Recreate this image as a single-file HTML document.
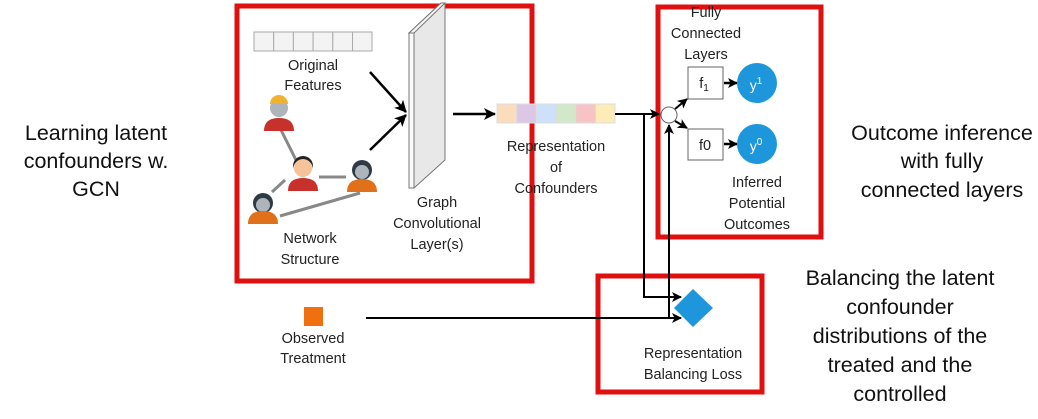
<!DOCTYPE html>
<html><head><meta charset="utf-8"><style>
html,body{margin:0;padding:0;background:#fff;}
svg{display:block;}
.s{font-family:"Liberation Sans",sans-serif;font-size:14.5px;fill:#222;text-anchor:middle;}
.b{font-family:"Liberation Sans",sans-serif;font-size:21.5px;fill:#111;text-anchor:middle;}
</style></head><body>
<svg width="1038" height="419" viewBox="0 0 1038 419" xmlns="http://www.w3.org/2000/svg">
<defs>
<marker id="a" markerWidth="10" markerHeight="10" refX="9" refY="5" orient="auto" markerUnits="userSpaceOnUse"><path d="M0,0 L10,5 L0,10 L2.5,5 z" fill="#000"/></marker>
<marker id="a2" markerWidth="12" markerHeight="12" refX="11" refY="6" orient="auto" markerUnits="userSpaceOnUse"><path d="M0,0 L12,6 L0,12 L3,6 z" fill="#000"/></marker>
</defs>
<rect x="237" y="6" width="295" height="275" fill="none" stroke="#e01010" stroke-width="5"/>
<rect x="658" y="7" width="163" height="230" fill="none" stroke="#e01010" stroke-width="5"/>
<rect x="598" y="276" width="164" height="116" fill="none" stroke="#e01010" stroke-width="5"/>

<g fill="#f3f3f3" stroke="#aaa" stroke-width="1">
<rect x="254" y="32" width="19.7" height="19"/><rect x="273.7" y="32" width="19.7" height="19"/><rect x="293.4" y="32" width="19.7" height="19"/><rect x="313.1" y="32" width="19.7" height="19"/><rect x="332.8" y="32" width="19.7" height="19"/><rect x="352.5" y="32" width="19.5" height="19"/>
</g>
<text class="s" x="313" y="70">Original</text>
<text class="s" x="313" y="90">Features</text>

<g stroke="#888" stroke-width="3">
<line x1="281" y1="130" x2="296" y2="160"/>
<line x1="319" y1="177" x2="346" y2="177"/>
<line x1="285" y1="180" x2="272" y2="192"/>
<line x1="280" y1="216" x2="360" y2="193"/>
</g>
<g>
<circle cx="279" cy="108" r="9" fill="#aeb4bb"/><path d="M270,104 a9,9 0 0 1 18,0 z" fill="#f0b030"/><path d="M264,131 q0,-13 15,-13 q15,0 15,13 z" fill="#c8302c"/>
<circle cx="303" cy="168" r="9" fill="#f5c29a"/><path d="M293,170 a10,11 0 0 1 20,0 l0,-4 a10,10 0 0 0 -20,0z" fill="#222"/><path d="M288,191 q0,-13 15,-13 q15,0 15,13 z" fill="#c8302c"/>
<circle cx="362" cy="170" r="10" fill="#2f3a44"/><circle cx="362" cy="172" r="7" fill="#aeb4bb"/><path d="M347,192 q0,-13 15,-13 q15,0 15,13 z" fill="#e0701a"/>
<circle cx="263" cy="203" r="10" fill="#2f3a44"/><circle cx="263" cy="205" r="7" fill="#aeb4bb"/><path d="M248,224 q0,-13 15,-13 q15,0 15,13 z" fill="#e0701a"/>
</g>
<text class="s" x="310" y="243">Network</text>
<text class="s" x="310" y="264">Structure</text>

<line x1="370" y1="72" x2="406" y2="112" stroke="#000" stroke-width="2.5" marker-end="url(#a2)"/>
<line x1="370" y1="150" x2="406" y2="115" stroke="#000" stroke-width="2.5" marker-end="url(#a2)"/>

<polygon points="409,33 441,3 445,3 445,160 414,188 409,188" fill="#e8e8e8" stroke="#777" stroke-width="1"/>
<polygon points="409,33 441,3 445,3 414,33" fill="#f4f4f4" stroke="#777" stroke-width="1"/>
<rect x="409" y="33" width="5" height="155" fill="#fafafa" stroke="#777" stroke-width="1"/>
<text class="s" x="437" y="207">Graph</text>
<text class="s" x="437" y="228">Convolutional</text>
<text class="s" x="437" y="249">Layer(s)</text>

<line x1="453" y1="114" x2="495" y2="114" stroke="#000" stroke-width="2.5" marker-end="url(#a2)"/>

<g stroke="#ddd" stroke-width="1">
<rect x="497" y="104" width="19.7" height="19" fill="#fbdcbc"/><rect x="516.7" y="104" width="19.7" height="19" fill="#dcc8e6"/><rect x="536.4" y="104" width="19.7" height="19" fill="#cfe0fa"/><rect x="556.1" y="104" width="19.7" height="19" fill="#d2e8cb"/><rect x="575.8" y="104" width="19.7" height="19" fill="#f6c4c4"/><rect x="595.5" y="104" width="19.5" height="19" fill="#fdecb8"/>
</g>
<text class="s" x="556" y="151">Representation</text>
<text class="s" x="556" y="172">of</text>
<text class="s" x="556" y="193">Confounders</text>

<path d="M615,114 L659,114" stroke="#000" stroke-width="2" fill="none" marker-end="url(#a)"/>
<path d="M644,114 L644,297 L681,297" stroke="#000" stroke-width="2" fill="none" marker-end="url(#a)"/>
<path d="M366,318 L681,318" stroke="#000" stroke-width="2" fill="none" marker-end="url(#a)"/>
<path d="M669,318 L669,125" stroke="#000" stroke-width="2" fill="none" marker-end="url(#a)"/>
<circle cx="669" cy="115" r="8" fill="#fff" stroke="#666" stroke-width="1"/>
<line x1="675" y1="109" x2="687" y2="99" stroke="#000" stroke-width="2" marker-end="url(#a)"/>
<line x1="675" y1="121" x2="687" y2="128" stroke="#000" stroke-width="2" marker-end="url(#a)"/>

<text class="s" x="706" y="17">Fully</text>
<text class="s" x="706" y="38">Connected</text>
<text class="s" x="706" y="59">Layers</text>
<rect x="688" y="67" width="35" height="32" fill="#fff" stroke="#666"/>
<text class="s" x="704" y="88">f<tspan font-size="10" dy="3">1</tspan></text>
<rect x="688" y="129" width="35" height="31" fill="#fff" stroke="#666"/>
<text class="s" x="705" y="150">f0</text>
<line x1="724" y1="83" x2="737" y2="83" stroke="#000" stroke-width="2.5" marker-end="url(#a)"/>
<line x1="724" y1="144" x2="737" y2="144" stroke="#000" stroke-width="2.5" marker-end="url(#a)"/>
<circle cx="757" cy="83" r="20" fill="#1e96dc"/>
<circle cx="757" cy="144" r="20" fill="#1e96dc"/>
<text x="756" y="90" font-family="Liberation Sans,sans-serif" font-size="14" fill="#fff" text-anchor="middle">y<tspan font-size="10" dy="-6">1</tspan></text>
<text x="756" y="151" font-family="Liberation Sans,sans-serif" font-size="14" fill="#fff" text-anchor="middle">y<tspan font-size="10" dy="-6">0</tspan></text>
<text class="s" x="757" y="187">Inferred</text>
<text class="s" x="757" y="208">Potential</text>
<text class="s" x="757" y="229">Outcomes</text>

<polygon points="693,289 713,308 693,327 674,308" fill="#1e96dc"/>
<text class="s" x="693" y="358">Representation</text>
<text class="s" x="693" y="379">Balancing Loss</text>

<rect x="304" y="307" width="19" height="19" fill="#f07010"/>
<text class="s" x="313" y="343">Observed</text>
<text class="s" x="313" y="363">Treatment</text>

<text class="b" x="96" y="140">Learning latent</text>
<text class="b" x="96" y="168">confounders w.</text>
<text class="b" x="96" y="196">GCN</text>
<text class="b" x="942" y="140">Outcome inference</text>
<text class="b" x="942" y="168">with fully</text>
<text class="b" x="942" y="197">connected layers</text>
<text class="b" x="900" y="285">Balancing the latent</text>
<text class="b" x="900" y="314">confounder</text>
<text class="b" x="900" y="343">distributions of the</text>
<text class="b" x="900" y="372">treated and the</text>
<text class="b" x="900" y="401">controlled</text>
</svg>
</body></html>
